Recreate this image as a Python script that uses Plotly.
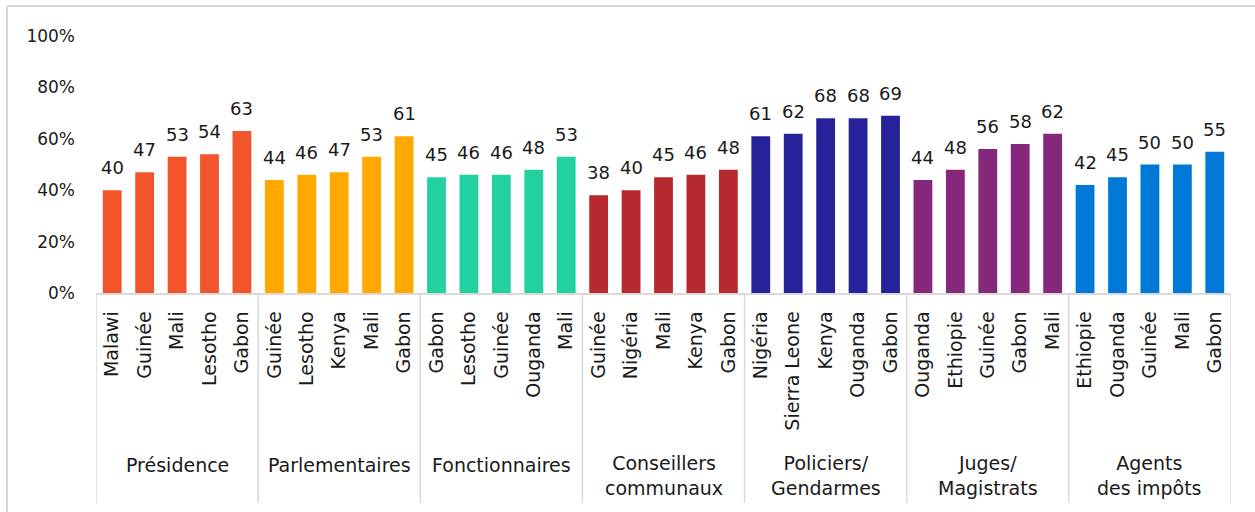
import plotly.graph_objects as go

# Groups (institutions) with their countries and scores (%)
groups = ["Présidence", "Parlementaires", "Fonctionnaires", "Conseillers<br>communaux",
          "Policiers/<br>Gendarmes", "Juges/<br>Magistrats", "Agents<br>des impôts"]
group_colors = ["#F2552C", "#FFA800", "#22D0A0", "#B5292F", "#26239A", "#85277A", "#0078D7"]

countries_presidence = ["Malawi", "Guinée", "Mali", "Lesotho", "Gabon"]
values_presidence = [40, 47, 53, 54, 63]
countries_parlementaires = ["Guinée", "Lesotho", "Kenya", "Mali", "Gabon"]
values_parlementaires = [44, 46, 47, 53, 61]
countries_fonctionnaires = ["Gabon", "Lesotho", "Guinée", "Ouganda", "Mali"]
values_fonctionnaires = [45, 46, 46, 48, 53]
countries_conseillers = ["Guinée", "Nigéria", "Mali", "Kenya", "Gabon"]
values_conseillers = [38, 40, 45, 46, 48]
countries_policiers = ["Nigéria", "Sierra Leone", "Kenya", "Ouganda", "Gabon"]
values_policiers = [61, 62, 68, 68, 69]
countries_juges = ["Ouganda", "Ethiopie", "Guinée", "Gabon", "Mali"]
values_juges = [44, 48, 56, 58, 62]
countries_impots = ["Ethiopie", "Ouganda", "Guinée", "Mali", "Gabon"]
values_impots = [42, 45, 50, 50, 55]

group_countries = [countries_presidence, countries_parlementaires, countries_fonctionnaires,
                   countries_conseillers, countries_policiers, countries_juges, countries_impots]
group_values = [values_presidence, values_parlementaires, values_fonctionnaires,
                values_conseillers, values_policiers, values_juges, values_impots]

y_ticks = [0, 20, 40, 60, 80, 100]
y_tick_labels = ["0%", "20%", "40%", "60%", "80%", "100%"]

FONT = "'DejaVu Sans', sans-serif"
TEXT = "#1a1a1a"
GRID = "#d9d9d9"

W, H = 1255, 512
ML, MR, MT, MB = 96, 24, 36, 219
PW = W - ML - MR
PH = H - MT - MB

fig = go.Figure()
annotations = []

tickvals, ticktext = [], []
pos = 0
starts = []
for name, color, cs, vs in zip(groups, group_colors, group_countries, group_values):
    xs = list(range(pos, pos + len(cs)))
    starts.append(pos)
    fig.add_trace(go.Bar(
        x=xs, y=vs, marker=dict(color=color, line=dict(width=0)),
        name=name.replace("<br>", " "), showlegend=False,
    ))
    # value labels floating above each bar
    for x, v in zip(xs, vs):
        annotations.append(dict(
            x=x, y=v, xref="x", yref="y", text=str(v), showarrow=False,
            xanchor="center", yanchor="bottom", yshift=10,
            font=dict(family=FONT, size=18, color=TEXT),
        ))
    tickvals += xs
    ticktext += cs
    pos += len(cs)
n_total = pos
starts.append(pos)

shapes = []
# vertical separators between groups, running below the axis
y_bottom = -(503 - MT - PH) / PH
for s in starts:
    shapes.append(dict(type="line", xref="x", yref="paper",
                       x0=s - 0.5, x1=s - 0.5, y0=0, y1=y_bottom,
                       line=dict(color=GRID, width=1.5)))
# group labels
for i, name in enumerate(groups):
    mid = (starts[i] + starts[i + 1] - 1) / 2
    single = "<br>" not in name
    y_px = 465 if single else 475
    annotations.append(dict(
        x=mid, xref="x", y=-(y_px - MT - PH) / PH, yref="paper",
        text=name, showarrow=False, xanchor="center", yanchor="middle",
        font=dict(family=FONT, size=19, color=TEXT), align="center",
    ))

# outer frame (left and top edges)
shapes.append(dict(type="line", xref="paper", yref="paper",
                   x0=(7 - ML) / PW, x1=(W + 5 - ML) / PW,
                   y0=1 + (MT - 6) / PH, y1=1 + (MT - 6) / PH,
                   line=dict(color=GRID, width=2)))
shapes.append(dict(type="line", xref="paper", yref="paper",
                   x0=(7 - ML) / PW, x1=(7 - ML) / PW,
                   y0=1 + (MT - 6) / PH, y1=-(H + 5 - MT - PH) / PH,
                   line=dict(color=GRID, width=2)))

fig.update_layout(
    width=W, height=H,
    margin=dict(l=ML, r=MR, t=MT, b=MB, pad=0),
    plot_bgcolor="white", paper_bgcolor="white",
    bargap=0.42,
    shapes=shapes, annotations=annotations,
    xaxis=dict(
        range=[-0.5, n_total - 0.5], tickmode="array",
        tickvals=tickvals, ticktext=ticktext, tickangle=-90,
        tickfont=dict(family=FONT, size=19, color=TEXT),
        showline=True, linecolor=GRID, linewidth=1.5,
        showgrid=False, zeroline=False, ticks="", ticklabelstandoff=9,
        fixedrange=True,
    ),
    yaxis=dict(
        range=[0, 100], tickmode="array", tickvals=y_ticks, ticktext=y_tick_labels,
        tickfont=dict(family=FONT, size=17, color=TEXT),
        showgrid=False, zeroline=False, showline=False, ticks="",
        ticklabelstandoff=20, fixedrange=True,
    ),
)

fig.write_html("out.html")
